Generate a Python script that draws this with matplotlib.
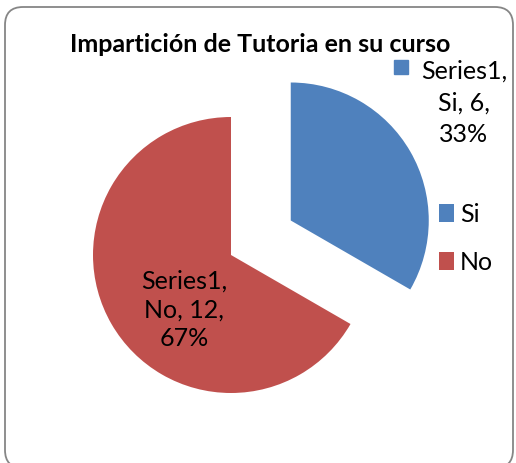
import matplotlib.pyplot as plt
from matplotlib.patches import FancyBboxPatch, Rectangle

# datos
categorias = ['Si', 'No']
valores = [6, 12]
serie = 'Series1'
titulo = 'Impartición de Tutoria en su curso'
colores = ['#4F81BD', '#C0504D']

W, H = 516, 463
plt.rcParams['font.family'] = ['Lato', 'DejaVu Sans']

fig = plt.figure(figsize=(W/100, H/100), dpi=100)
ax = fig.add_axes([0, 0, 1, 1])

# marco redondeado
marco = FancyBboxPatch((5, -5), 508, 461, boxstyle='round,pad=0,rounding_size=18',
                       facecolor='white', edgecolor='#868686', linewidth=1.3, zorder=0)
ax.add_patch(marco)

total = sum(valores)
# explode en unidades de datos (pixeles aqui)
cuñas, _ = ax.pie(valores, colors=colores, startangle=90, counterclock=False,
                  explode=[69, 0], radius=138, center=(231, H - 255),
                  wedgeprops=dict(linewidth=0), frame=True)
ax.set_xlim(0, W)
ax.set_ylim(0, H)
ax.axis('off')

pct = [round(100*v/total) for v in valores]

# etiqueta Si (fuera, con clave)
ax.text(464, H - 103, f'{serie},\n{categorias[0]}, {valores[0]},\n{pct[0]}%',
        ha='center', va='center', fontsize=18, linespacing=1.45)
ax.add_patch(Rectangle((394, H - 74), 14, 14, color=colores[0]))

# etiqueta No (dentro)
ax.text(184, H - 310, f'{serie},\n{categorias[1]}, {valores[1]},\n{pct[1]}%',
        ha='center', va='center', fontsize=18, linespacing=1.3)

ax.text(260, H - 45, titulo, ha='center', va='center', fontsize=18, fontweight='bold')

fig.legend(cuñas, categorias, loc='center left', bbox_to_anchor=(439/W, 1 - 238/H),
           frameon=False, fontsize=18, handlelength=0.6, handleheight=0.75,
           handletextpad=0.25, labelspacing=1.0, borderpad=0, borderaxespad=0)

plt.savefig('out.png', dpi=100)
